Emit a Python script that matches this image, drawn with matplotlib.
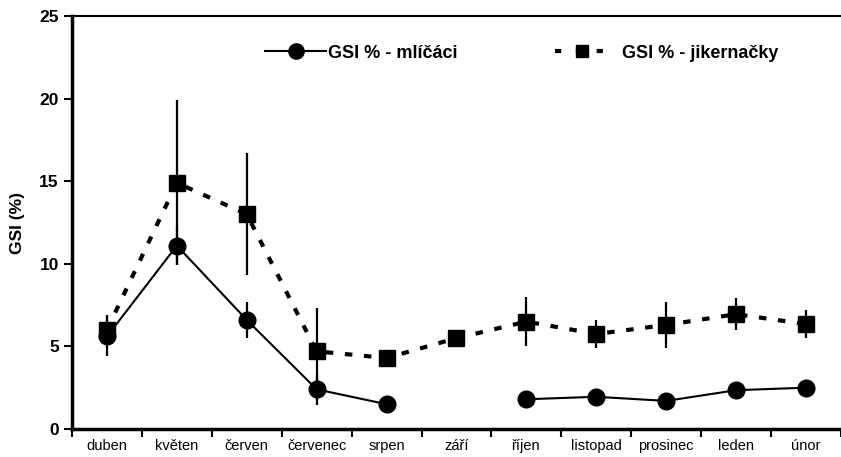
import numpy as np
import matplotlib.pyplot as plt
from matplotlib.lines import Line2D

plt.rcParams['font.family'] = ['Liberation Sans', 'DejaVu Sans']

mesice = ["duben", "květen", "červen", "červenec", "srpen", "září",
          "říjen", "listopad", "prosinec", "leden", "únor"]

# GSI % - mlicaci (males), zari missing
gsi_m = [5.6, 11.1, 6.6, 2.4, 1.5, np.nan, 1.8, 1.95, 1.7, 2.35, 2.5]
err_m = [1.2, 1.2, 1.1, 0.95, 0, 0, 0.4, 0, 0, 0, 0]

# GSI % - jikernacky (females)
gsi_f = [6.0, 14.9, 13.0, 4.7, 4.3, 5.5, 6.5, 5.75, 6.3, 6.95, 6.35]
err_f = [0.9, 5.0, 3.7, 2.6, 0, 0, 1.5, 0.85, 1.4, 0.95, 0.85]

x = np.arange(len(mesice))
dash = (0, (1.8, 2.8))

fig = plt.figure(figsize=(8.41, 4.57), dpi=100)
ax = fig.add_axes([72 / 841, 1 - 429 / 457, 1 - 72 / 841, (429 - 16) / 457])

ax.errorbar(x, gsi_f, yerr=err_f, fmt='none', ecolor='black', elinewidth=1.6)
ax.errorbar(x, gsi_m, yerr=err_m, fmt='none', ecolor='black', elinewidth=1.6)

ax.plot(x, gsi_f, color='black', lw=3, linestyle=dash,
        marker='s', markersize=11, zorder=3)
ax.plot(x, gsi_m, color='black', lw=1.5, linestyle='-',
        marker='o', markersize=12, zorder=3)

ax.set_xlim(-0.5, -0.5 + 770 / 70.6)
ax.set_ylim(0, 25)

ax.set_xticks(np.arange(-0.5, 10.6, 1.0))
ax.set_xticklabels([])
ax.set_xticks(x, minor=True)
ax.set_xticklabels(mesice, minor=True, fontsize=10.5)
ax.tick_params(axis='x', which='minor', length=0, pad=7.5)
ax.tick_params(axis='x', which='major', length=6, width=1.5, direction='out')

ax.set_yticks([0, 5, 10, 15, 20, 25])
ax.tick_params(axis='y', length=6, width=1.5, direction='out', labelsize=12.5)
for lab in ax.get_yticklabels():
    lab.set_fontweight('bold')

ax.set_ylabel("GSI (%)", fontsize=12.5, fontweight='bold', labelpad=10)

ax.spines['right'].set_visible(False)
ax.spines['left'].set_linewidth(2.5)
ax.spines['bottom'].set_linewidth(2.5)
ax.spines['top'].set_linewidth(1.5)

h_m = Line2D([], [], color='black', lw=1.5, marker='o', markersize=11)
h_f = Line2D([], [], color='black', lw=3, linestyle=(0, (1.5, 3.5)),
             marker='s', markersize=9)
leg1 = fig.legend([h_m], ["GSI % - mlíčáci"], loc='center left',
                  bbox_to_anchor=(265 / 841, 1 - 53 / 457), frameon=False,
                  prop={'weight': 'bold', 'size': 13}, handlelength=3.4,
                  handletextpad=0.1, borderpad=0, borderaxespad=0)
leg2 = fig.legend([h_f], ["GSI % - jikernačky"], loc='center left',
                  bbox_to_anchor=(555 / 841, 1 - 53 / 457), frameon=False,
                  prop={'weight': 'bold', 'size': 13}, handlelength=3.0,
                  handletextpad=0.7, borderpad=0, borderaxespad=0)

fig.savefig("out.png", dpi=100)
